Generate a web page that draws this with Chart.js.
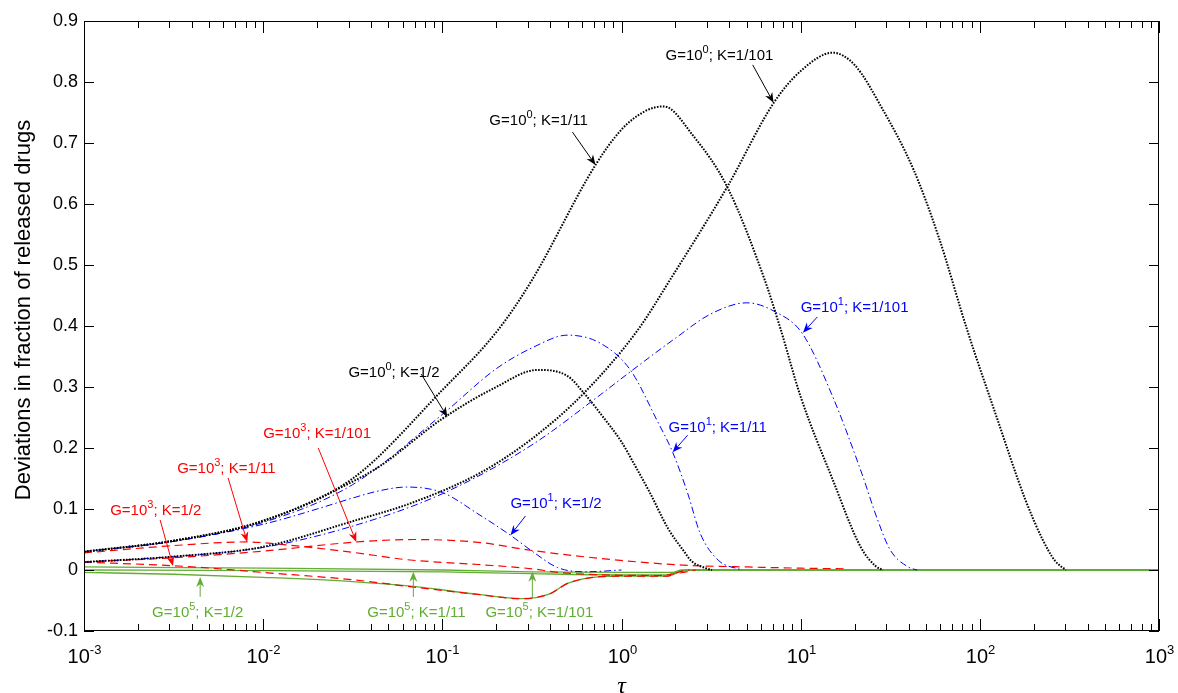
<!DOCTYPE html>
<html lang="en">
<head>
<meta charset="utf-8">
<title>Deviations in fraction of released drugs</title>
<script src="https://cdn.jsdelivr.net/npm/chart.js@4.4.1/dist/chart.umd.min.js"></script>
<style>
	html, body { margin: 0; padding: 0; background: #ffffff; }
	#wrap { position: relative; width: 1178px; height: 693px; }
</style>
</head>
<body>
<div id="wrap"><canvas id="releaseChart"></canvas></div>
<script>
// values: tau (dimensionless time) and deviation
const tauBlackK2 = [0.001, 0.00316, 0.01, 0.0316, 0.0447, 0.1, 0.2, 0.339, 0.5, 0.617, 0.76, 1.0, 1.17, 1.45, 1.82, 2.24, 2.45, 2.95, 3.2];
const devBlackK2 = [0.030, 0.048, 0.080, 0.145, 0.170, 0.248, 0.300, 0.328, 0.318, 0.290, 0.257, 0.210, 0.175, 0.125, 0.068, 0.030, 0.015, 0.003, 0.0];

const tauBlackK11 = [0.001, 0.00316, 0.01, 0.0316, 0.1, 0.204, 0.316, 0.716, 1.0, 1.35, 1.72, 2.51, 3.89, 6.31, 7.76, 10, 15.1, 21.6, 26.3, 28.8];
const devBlackK11 = [0.030, 0.048, 0.081, 0.150, 0.295, 0.393, 0.475, 0.664, 0.722, 0.752, 0.760, 0.712, 0.628, 0.475, 0.393, 0.284, 0.148, 0.038, 0.006, 0.0];

const tauBlackK101 = [0.001, 0.00316, 0.01, 0.0316, 0.069, 0.162, 0.316, 0.617, 1.23, 1.86, 3.89, 7.08, 10, 15.1, 20, 28.2, 42.7, 58.9, 85.1, 126, 178, 224, 263, 302];
const devBlackK101 = [0.013, 0.022, 0.038, 0.080, 0.111, 0.159, 0.215, 0.290, 0.393, 0.475, 0.628, 0.766, 0.818, 0.848, 0.828, 0.759, 0.656, 0.546, 0.393, 0.245, 0.118, 0.050, 0.015, 0.0];

const tauBlueK2 = [0.001, 0.00316, 0.01, 0.02, 0.0316, 0.0447, 0.063, 0.1, 0.158, 0.24, 0.32, 0.44, 0.63, 1.0];
const devBlueK2 = [0.030, 0.047, 0.075, 0.100, 0.118, 0.130, 0.136, 0.127, 0.092, 0.057, 0.030, 0.004, -0.003, 0.0];

const tauBlueK11 = [0.001, 0.00316, 0.01, 0.0316, 0.1, 0.2, 0.316, 0.5, 0.76, 1.12, 1.58, 1.93, 2.34, 2.75, 3.47, 4.68];
const devBlueK11 = [0.030, 0.047, 0.078, 0.140, 0.255, 0.330, 0.364, 0.385, 0.372, 0.328, 0.245, 0.193, 0.126, 0.060, 0.016, 0.0];

const tauBlueK101 = [0.001, 0.00316, 0.01, 0.0316, 0.1, 0.316, 0.76, 1.12, 2.0, 3.16, 5.01, 7.24, 10.2, 15.1, 21.9, 26.9, 31.6, 39.8, 44.7];
const devBlueK101 = [0.013, 0.022, 0.037, 0.072, 0.125, 0.205, 0.287, 0.325, 0.380, 0.420, 0.438, 0.423, 0.388, 0.284, 0.159, 0.082, 0.033, 0.005, 0.0];

const tauRedK2 = [0.001, 0.00316, 0.0063, 0.01, 0.0316, 0.069, 0.158, 0.275, 0.398, 0.5, 0.76, 1.0, 1.8, 2.15, 2.4];
const devRedK2 = [0.013, 0.007, 0.001, -0.004, -0.016, -0.028, -0.040, -0.047, -0.039, -0.022, -0.011, -0.010, -0.010, -0.002, 0.0];

const tauRedK11 = [0.001, 0.00316, 0.0081, 0.0126, 0.0316, 0.063, 0.158, 0.316, 0.447, 0.79, 1.6, 2.1, 2.6];
const devRedK11 = [0.028, 0.040, 0.046, 0.042, 0.029, 0.017, 0.009, 0.002, -0.004, -0.008, -0.009, -0.005, 0.0];

const tauRedK101 = [0.001, 0.00316, 0.01, 0.0335, 0.069, 0.163, 0.3, 0.76, 2.2, 5.0, 10, 17.8];
const devRedK101 = [0.013, 0.020, 0.031, 0.046, 0.050, 0.045, 0.033, 0.019, 0.008, 0.005, 0.003, 0.002];

const tauGreenK2 = [0.001, 0.00316, 0.01, 0.0316, 0.069, 0.158, 0.275, 0.398, 0.5, 0.76, 1.0, 1.8, 2.15, 2.4, 1000];
const devGreenK2 = [-0.004, -0.007, -0.012, -0.019, -0.027, -0.040, -0.047, -0.039, -0.022, -0.011, -0.010, -0.010, -0.002, 0.0, 0.0];

const tauGreenK11 = [0.001, 0.01, 0.1, 0.316, 1.0, 2.0, 2.4, 1000];
const devGreenK11 = [0.005, 0.003, 0.0, -0.003, -0.004, -0.004, 0.0, 0.0];

const tauGreenK101 = [0.001, 0.01, 0.1, 0.316, 1.0, 1.8, 2.15, 1000];
const devGreenK101 = [0.0, -0.001, -0.003, -0.006, -0.008, -0.008, 0.0, 0.0];

const xTickValues = [0.001, 0.01, 0.1, 1, 10, 100, 1000];
const xTickExponents = ['-3', '-2', '-1', '0', '1', '2', '3'];
const yTickValues = [-0.1, 0, 0.1, 0.2, 0.3, 0.4, 0.5, 0.6, 0.7, 0.8, 0.9];
const yTickLabels = ['-0.1', '0', '0.1', '0.2', '0.3', '0.4', '0.5', '0.6', '0.7', '0.8', '0.9'];

const sans = '"Liberation Sans", Arial, Helvetica, sans-serif';
const colors = { black: '#000000', blue: '#0000ff', red: '#ff0000', green: '#62ad33' };

const lineStyles = {
	black: { borderColor: colors.black, borderWidth: 2, borderDash: [1.6, 1.4], order: 1 },
	blue: { borderColor: colors.blue, borderWidth: 1, borderDash: [7, 3, 1.5, 3], order: 2 },
	red: { borderColor: colors.red, borderWidth: 1.2, borderDash: [8, 5], order: 3 },
	green: { borderColor: colors.green, borderWidth: 1.3, borderDash: [], order: 4 },
};

const series = [
	{ label: 'G=10^0; K=1/2', tau: tauBlackK2, dev: devBlackK2, style: 'black' },
	{ label: 'G=10^0; K=1/11', tau: tauBlackK11, dev: devBlackK11, style: 'black' },
	{ label: 'G=10^0; K=1/101', tau: tauBlackK101, dev: devBlackK101, style: 'black' },
	{ label: 'G=10^1; K=1/2', tau: tauBlueK2, dev: devBlueK2, style: 'blue' },
	{ label: 'G=10^1; K=1/11', tau: tauBlueK11, dev: devBlueK11, style: 'blue' },
	{ label: 'G=10^1; K=1/101', tau: tauBlueK101, dev: devBlueK101, style: 'blue' },
	{ label: 'G=10^3; K=1/2', tau: tauRedK2, dev: devRedK2, style: 'red' },
	{ label: 'G=10^3; K=1/11', tau: tauRedK11, dev: devRedK11, style: 'red' },
	{ label: 'G=10^3; K=1/101', tau: tauRedK101, dev: devRedK101, style: 'red' },
	{ label: 'G=10^5; K=1/2', tau: tauGreenK2, dev: devGreenK2, style: 'green' },
	{ label: 'G=10^5; K=1/11', tau: tauGreenK11, dev: devGreenK11, style: 'green' },
	{ label: 'G=10^5; K=1/101', tau: tauGreenK101, dev: devGreenK101, style: 'green' },
];

// callouts: text anchor (left, baseline), arrow tail and arrow tip, all in data units
const notes = [
	{ exp: '0', tail: '; K=1/101', color: colors.black, at: [1.76, 0.836], from: [5.40, 0.828], to: [7.06, 0.766] },
	{ exp: '0', tail: '; K=1/11', color: colors.black, at: [0.183, 0.730], from: [0.532, 0.718], to: [0.716, 0.664] },
	{ exp: '0', tail: '; K=1/2', color: colors.black, at: [0.0299, 0.316], from: [0.0763, 0.321], to: [0.1067, 0.251] },
	{ exp: '1', tail: '; K=1/101', color: colors.blue, at: [10.0, 0.423], from: [12.4, 0.415], to: [10.3, 0.389] },
	{ exp: '1', tail: '; K=1/11', color: colors.blue, at: [1.83, 0.226], from: [2.34, 0.221], to: [1.93, 0.193] },
	{ exp: '1', tail: '; K=1/2', color: colors.blue, at: [0.240, 0.102], from: [0.291, 0.0885], to: [0.240, 0.057] },
	{ exp: '3', tail: '; K=1/101', color: colors.red, at: [0.01, 0.216], from: [0.0203, 0.200], to: [0.0331, 0.046] },
	{ exp: '3', tail: '; K=1/11', color: colors.red, at: [0.00331, 0.159], from: [0.00637, 0.151], to: [0.00815, 0.046] },
	{ exp: '3', tail: '; K=1/2', color: colors.red, at: [0.0014, 0.090], from: [0.00266, 0.082], to: [0.00314, 0.0066] },
	{ exp: '5', tail: '; K=1/2', color: colors.green, at: [0.0024, -0.077], from: [0.00445, -0.044], to: [0.00445, -0.0115] },
	{ exp: '5', tail: '; K=1/11', color: colors.green, at: [0.0381, -0.077], from: [0.0689, -0.044], to: [0.0689, -0.003] },
	{ exp: '5', tail: '; K=1/101', color: colors.green, at: [0.174, -0.077], from: [0.318, -0.046], to: [0.318, -0.003] },
];

const toPoints = (tau, dev) => tau.map((t, i) => ({ x: t, y: dev[i] }));

const datasets = series.map((s) => ({
	label: s.label,
	data: toPoints(s.tau, s.dev),
	...lineStyles[s.style],
	fill: false,
	pointRadius: 0,
	cubicInterpolationMode: 'monotone',
}));

const drawArrow = (ctx, x1, y1, x2, y2, color) => {
	const ang = Math.atan2(y2 - y1, x2 - x1);
	const len = 10, half = 4, back = 7;
	ctx.strokeStyle = color;
	ctx.fillStyle = color;
	ctx.lineWidth = 1;
	ctx.beginPath();
	ctx.moveTo(x1, y1);
	ctx.lineTo(x2 - Math.cos(ang) * back, y2 - Math.sin(ang) * back);
	ctx.stroke();
	ctx.save();
	ctx.translate(x2, y2);
	ctx.rotate(ang);
	ctx.beginPath();
	ctx.moveTo(0, 0);
	ctx.lineTo(-len, -half);
	ctx.lineTo(-back, 0);
	ctx.lineTo(-len, half);
	ctx.closePath();
	ctx.fill();
	ctx.restore();
};

const framePlugin = {
	id: 'frame',
	afterDraw(chart) {
		const { ctx, chartArea: a } = chart;
		const x = chart.scales.x;
		const y = chart.scales.y;
		ctx.save();

		// box
		ctx.strokeStyle = '#000';
		ctx.lineWidth = 1;
		ctx.strokeRect(a.left + 0.5, a.top + 0.5, a.right - a.left - 1, a.bottom - a.top - 1);

		// y ticks and labels
		ctx.font = `18px ${sans}`;
		ctx.fillStyle = '#000';
		ctx.textAlign = 'right';
		ctx.textBaseline = 'middle';
		yTickValues.forEach((v, i) => {
			const py = Math.round(y.getPixelForValue(v)) + 0.5;
			ctx.beginPath();
			ctx.moveTo(a.left, py); ctx.lineTo(a.left + 10, py);
			ctx.moveTo(a.right, py); ctx.lineTo(a.right - 10, py);
			ctx.stroke();
			ctx.fillText(yTickLabels[i], a.left - 6, py);
		});

		// x ticks (major + minor) and labels
		xTickValues.forEach((v, i) => {
			const px = Math.round(x.getPixelForValue(v)) + 0.5;
			ctx.beginPath();
			ctx.moveTo(px, a.bottom); ctx.lineTo(px, a.bottom - 12);
			ctx.moveTo(px, a.top); ctx.lineTo(px, a.top + 12);
			ctx.stroke();
			if (i < xTickValues.length - 1) {
				for (let m = 2; m <= 9; m++) {
					const mx = Math.round(x.getPixelForValue(v * m)) + 0.5;
					ctx.beginPath();
					ctx.moveTo(mx, a.bottom); ctx.lineTo(mx, a.bottom - 7);
					ctx.moveTo(mx, a.top); ctx.lineTo(mx, a.top + 7);
					ctx.stroke();
				}
			}
			ctx.textAlign = 'left';
			ctx.textBaseline = 'alphabetic';
			ctx.font = `20px ${sans}`;
			const wBase = ctx.measureText('10').width;
			ctx.font = `13px ${sans}`;
			const wExp = ctx.measureText(xTickExponents[i]).width;
			const left = px - (wBase + wExp) / 2;
			ctx.font = `20px ${sans}`;
			ctx.fillText('10', left, a.bottom + 32);
			ctx.font = `13px ${sans}`;
			ctx.fillText(xTickExponents[i], left + wBase, a.bottom + 23);
		});

		// axis titles
		ctx.font = `italic 24px "Liberation Serif", "DejaVu Serif", serif`;
		ctx.textAlign = 'center';
		ctx.fillText('\u03c4', (a.left + a.right) / 2, a.bottom + 62);

		ctx.save();
		ctx.translate(30, (a.top + a.bottom) / 2 - 16);
		ctx.rotate(-Math.PI / 2);
		ctx.font = `22px ${sans}`;
		ctx.textAlign = 'center';
		ctx.fillText('Deviations in fraction of released drugs', 0, 0);
		ctx.restore();

		// callouts
		notes.forEach((n) => {
			const tx = x.getPixelForValue(n.at[0]);
			const ty = y.getPixelForValue(n.at[1]);
			ctx.fillStyle = n.color;
			ctx.textAlign = 'left';
			ctx.textBaseline = 'alphabetic';
			ctx.font = `15px ${sans}`;
			ctx.fillText('G=10', tx, ty);
			let w = ctx.measureText('G=10').width;
			ctx.font = `11px ${sans}`;
			ctx.fillText(n.exp, tx + w, ty - 7);
			w += ctx.measureText(n.exp).width;
			ctx.font = `15px ${sans}`;
			ctx.fillText(n.tail, tx + w, ty);
			drawArrow(ctx,
				x.getPixelForValue(n.from[0]), y.getPixelForValue(n.from[1]),
				x.getPixelForValue(n.to[0]), y.getPixelForValue(n.to[1]),
				n.color);
		});

		ctx.restore();
	},
};

new Chart(document.getElementById('releaseChart'), {
	type: 'line',
	data: { datasets },
	options: {
		responsive: true,
		maintainAspectRatio: false,
		animation: false,
		layout: { padding: { left: 84, right: 19, top: 21, bottom: 62 } },
		scales: {
			x: { type: 'logarithmic', min: 0.001, max: 1000, display: false },
			y: { type: 'linear', min: -0.1, max: 0.9, display: false },
		},
		plugins: {
			legend: { display: false },
			tooltip: { enabled: false },
		},
		elements: { point: { radius: 0 } },
	},
	plugins: [framePlugin],
});
</script>
</body>
</html>
